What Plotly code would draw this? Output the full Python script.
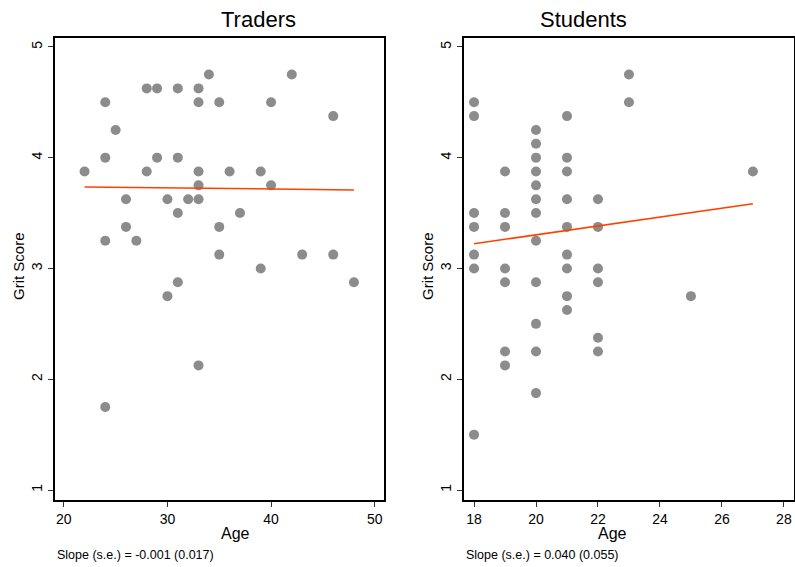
import numpy as np
import plotly.graph_objects as go

# Traders data (Age, Grit Score)
traders_age = [22, 24, 24, 24, 24, 25, 26, 26, 27, 28, 28, 29, 29, 30, 30, 31, 31, 31, 31,
               32, 33, 33, 33, 33, 33, 33, 34, 35, 35, 35, 36, 37, 39, 39, 40, 40, 42, 43,
               46, 46, 48]
traders_grit = [3.875, 4.5, 4.0, 3.25, 1.75, 4.25, 3.625, 3.375, 3.25, 4.625, 3.875, 4.625,
                4.0, 3.625, 2.75, 4.625, 4.0, 3.5, 2.875, 3.625, 4.625, 4.5, 3.875, 3.75,
                3.625, 2.125, 4.75, 4.5, 3.375, 3.125, 3.875, 3.5, 3.875, 3.0, 4.5, 3.75,
                4.75, 3.125, 4.375, 3.125, 2.875]

# Students data (Age, Grit Score)
students_age = ([18] * 7 + [19] * 7 + [20] * 12 + [21] * 9 + [22] * 6 + [23] * 2 + [25] + [27])
students_grit = [4.5, 4.375, 3.5, 3.375, 3.125, 3.0, 1.5,
                 3.875, 3.5, 3.375, 3.0, 2.875, 2.25, 2.125,
                 4.25, 4.125, 4.0, 3.875, 3.75, 3.625, 3.5, 3.25, 2.875, 2.5, 2.25, 1.875,
                 4.375, 4.0, 3.875, 3.625, 3.375, 3.125, 3.0, 2.75, 2.625,
                 3.625, 3.375, 3.0, 2.875, 2.375, 2.25,
                 4.75, 4.5,
                 2.75,
                 3.875]

# Fitted lines (intercept, slope)
traders_fit = (3.757, -0.001)
students_fit = (2.503, 0.040)

panel_titles = ["Traders", "Students"]
slope_labels = ["Slope (s.e.) = -0.001 (0.017)", "Slope (s.e.) = 0.040 (0.055)"]
traders_xticks = [20, 30, 40, 50]
students_xticks = [18, 20, 22, 24, 26, 28]
y_ticks = [1, 2, 3, 4, 5]

FONT = "Liberation Sans, Arial, sans-serif"
DOT = "#8c8c8c"
LINE = "#ff4000"

W, H = 795, 567
TOP, BOT = 38, 500
PH = BOT - TOP

fig = go.Figure()

def add_panel(ages, grits, fit, xa, ya):
    fig.add_trace(go.Scatter(x=ages, y=grits, mode="markers",
                             marker=dict(color=DOT, size=10, line=dict(width=0)),
                             xaxis=xa, yaxis=ya, showlegend=False))
    xs = np.array([min(ages), max(ages)], dtype=float)
    fig.add_trace(go.Scatter(x=xs, y=fit[0] + fit[1] * xs, mode="lines",
                             line=dict(color=LINE, width=1.5),
                             xaxis=xa, yaxis=ya, showlegend=False))

add_panel(traders_age, traders_grit, traders_fit, "x", "y")
add_panel(students_age, students_grit, students_fit, "x2", "y2")

axis_common = dict(showline=True, linecolor="black", linewidth=1.5, mirror=True,
                   ticks="outside", ticklen=5, tickcolor="#333", tickwidth=1,
                   showgrid=False, zeroline=False,
                   tickfont=dict(family=FONT, size=14, color="black"))

xd1 = [54.5 / W, 384 / W]
xd2 = [463.5 / W, 793.5 / W]

fig.update_layout(
    width=W, height=H,
    margin=dict(l=0, r=0, t=TOP, b=H - BOT),
    paper_bgcolor="white", plot_bgcolor="white",
    font=dict(family=FONT, color="black"),
    xaxis=dict(domain=xd1, range=[19.1, 50.9], tickvals=traders_xticks, **axis_common),
    yaxis=dict(domain=[0, 1], range=[0.91, 5.08], tickvals=y_ticks, tickangle=-90,
               anchor="x", **axis_common),
    xaxis2=dict(domain=xd2, range=[17.66, 28.31], tickvals=students_xticks, anchor="y2",
                **axis_common),
    yaxis2=dict(domain=[0, 1], range=[0.91, 5.08], tickvals=y_ticks, tickangle=-90,
                anchor="x2", **axis_common),
)

def py(pix):
    return (BOT - pix) / PH

annotations = []
for i, (xd, title, slope) in enumerate(zip([xd1, xd2], panel_titles, slope_labels)):
    cx = (xd[0] + xd[1]) / 2
    annotations.append(dict(text=title, x=cx, y=py(19), xref="paper", yref="paper",
                            showarrow=False, yanchor="middle",
                            font=dict(family=FONT, size=22)))
    annotations.append(dict(text="Age", x=cx, y=py(533), xref="paper", yref="paper",
                            showarrow=False, yanchor="middle", font=dict(family=FONT, size=16)))
    annotations.append(dict(text="Grit Score", x=(18 if i == 0 else 427) / W,
                            y=py(266), xref="paper", yref="paper",
                            showarrow=False, textangle=-90, xanchor="center",
                            font=dict(family=FONT, size=15)))
    annotations.append(dict(text=slope, x=(57 if i == 0 else 466) / W, y=py(555),
                            xref="paper", yref="paper", showarrow=False, xanchor="left",
                            yanchor="middle", xshift=-2,
                            font=dict(family=FONT, size=12.5)))
fig.update_layout(annotations=annotations)

fig.write_html("out.html", config={"displayModeBar": False},
               post_script="document.body.style.margin='0';document.body.style.padding='0';")
